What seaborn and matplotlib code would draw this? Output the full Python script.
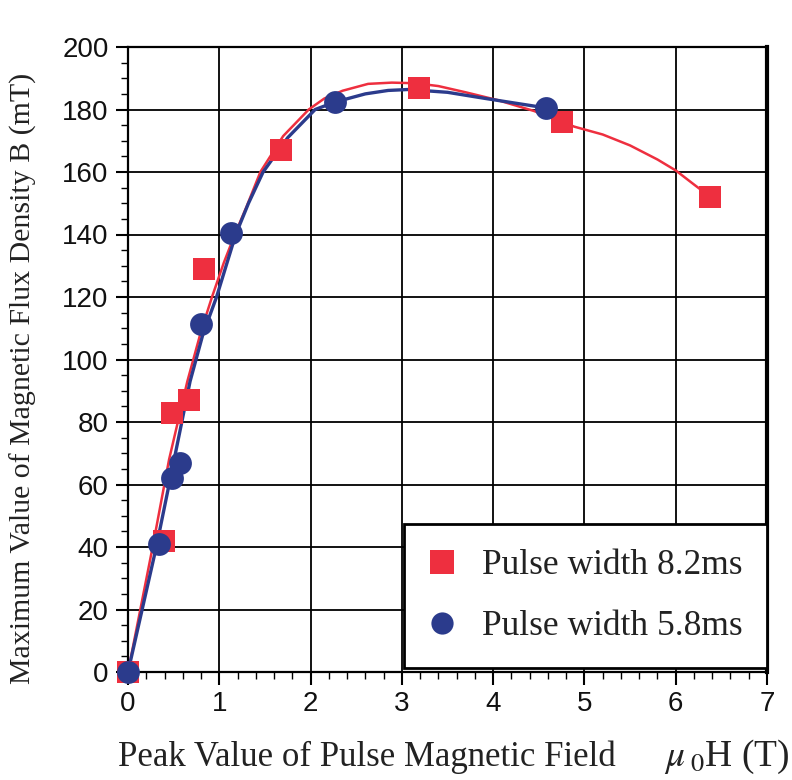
import matplotlib
matplotlib.use('Agg')
import matplotlib.pyplot as plt
import seaborn as sns
import pandas as pd
from matplotlib.lines import Line2D
from matplotlib.ticker import MultipleLocator

# measured points
red_x = [0, 0.39, 0.48, 0.67, 0.83, 1.68, 3.19, 4.75, 6.38]
red_y = [0, 42, 83, 87, 129, 167, 187, 176, 152]
blue_x = [0, 0.34, 0.48, 0.57, 0.80, 1.13, 2.27, 4.58]
blue_y = [0, 41, 62, 67, 111.5, 140.5, 182.5, 180.5]

# fitted curves as drawn in the picture
red_fit_x = [0, 0.27, 0.45, 0.65, 0.8, 0.92, 1.05, 1.17, 1.3, 1.45, 1.7, 1.98, 2.15, 2.35, 2.63, 2.89,
             3.15, 3.4, 3.7, 4.05, 4.45, 4.89, 5.2, 5.5, 5.8, 6.0, 6.2, 6.38]
red_fit_y = [0, 40, 68, 93, 109, 120, 131, 140, 149, 160, 171.5, 180, 183.5, 186, 188.2, 188.6,
             188.4, 187.5, 185.5, 183, 179.5, 174.5, 172, 168.5, 164, 160.5, 156, 152]
blue_fit_x = [0, 0.31, 0.45, 0.68, 0.82, 0.97, 1.18, 1.32, 1.48, 1.75, 2.05, 2.27, 2.6, 2.85,
              3.07, 3.5, 3.9, 4.25, 4.58]
blue_fit_y = [0, 40, 60, 93, 108, 120, 140, 150, 160, 171, 180, 182.4, 185, 186.1,
              186.4, 185.5, 183.6, 182, 180.5]

labels = ['Pulse width 8.2ms', 'Pulse width 5.8ms']
red = '#ee2f3f'
blue = '#2b3b8c'

sns.set_style('white')
plt.rcParams['mathtext.fontset'] = 'stix'
serif = ['Liberation Serif', 'DejaVu Serif']
sans = ['Liberation Sans', 'DejaVu Sans']

fig = plt.figure(figsize=(7.92, 7.8), dpi=100)
ax = fig.add_axes([128 / 792, 1 - 672 / 780, 639 / 792, 625 / 780])

sns.lineplot(x=red_fit_x, y=red_fit_y, color=red, lw=1.8, sort=False, ax=ax, zorder=3)
sns.lineplot(x=blue_fit_x, y=blue_fit_y, color=blue, lw=2.4, sort=False, ax=ax, zorder=4)
sns.scatterplot(x=red_x, y=red_y, marker='s', s=270, color=red, linewidth=0, ax=ax, zorder=5, clip_on=False)
sns.scatterplot(x=blue_x, y=blue_y, marker='o', s=270, color=blue, linewidth=0, ax=ax, zorder=6, clip_on=False)

ax.set_xlim(0, 7)
ax.set_ylim(0, 200)
ax.xaxis.set_major_locator(MultipleLocator(1))
ax.xaxis.set_minor_locator(MultipleLocator(0.2))
ax.yaxis.set_major_locator(MultipleLocator(20))
ax.yaxis.set_minor_locator(MultipleLocator(5))
ax.grid(True, which='major', color='black', lw=1.3)
ax.set_axisbelow(True)
ax.tick_params(which='major', direction='out', length=9, width=1.5, color='black', pad=5)
ax.tick_params(which='minor', direction='out', length=5, width=1.0, color='black')
ax.tick_params(axis='both', which='both', bottom=True, left=True)
for lab in ax.get_xticklabels() + ax.get_yticklabels():
    lab.set_fontfamily(sans)
    lab.set_fontsize(20)
    lab.set_color('#111111')
for side in ['left', 'bottom', 'top']:
    ax.spines[side].set_color('black')
    ax.spines[side].set_linewidth(1.6)
ax.spines['right'].set_color('black')
ax.spines['right'].set_linewidth(3)

ax.set_ylabel('Maximum Value of Magnetic Flux Density B (mT)', fontsize=21.5, family=serif, color='#222222')
ax.yaxis.set_label_coords(-0.142, 0.47)
ax.set_xlabel('Peak Value of Pulse Magnetic Field', fontsize=25, family=serif, ha='left', color='#222222')
ax.xaxis.set_label_coords(-0.016, -0.11)
fig.text(790 / 792, 1 - 757 / 780, r'$\mu\,_{\rm 0}$H (T)', fontsize=27, family=serif,
         ha='right', va='center', color='#222222')

handles = [
    Line2D([], [], marker='s', ls='', color=red, markersize=17, markeredgewidth=0),
    Line2D([], [], marker='o', ls='', color=blue, markersize=16, markeredgewidth=0),
]
leg = ax.legend(handles, labels, loc='lower right', bbox_to_anchor=(1.0, 0.006), borderaxespad=0,
                fancybox=False, framealpha=1, edgecolor='black', labelspacing=0.8, borderpad=0.7,
                handlelength=0.75, handletextpad=0.75, prop={'family': serif, 'size': 25.5})
leg.get_frame().set_linewidth(2)
leg.set_zorder(10)
for t in leg.get_texts():
    t.set_color('#222222')

fig.savefig('out.png', dpi=100)
